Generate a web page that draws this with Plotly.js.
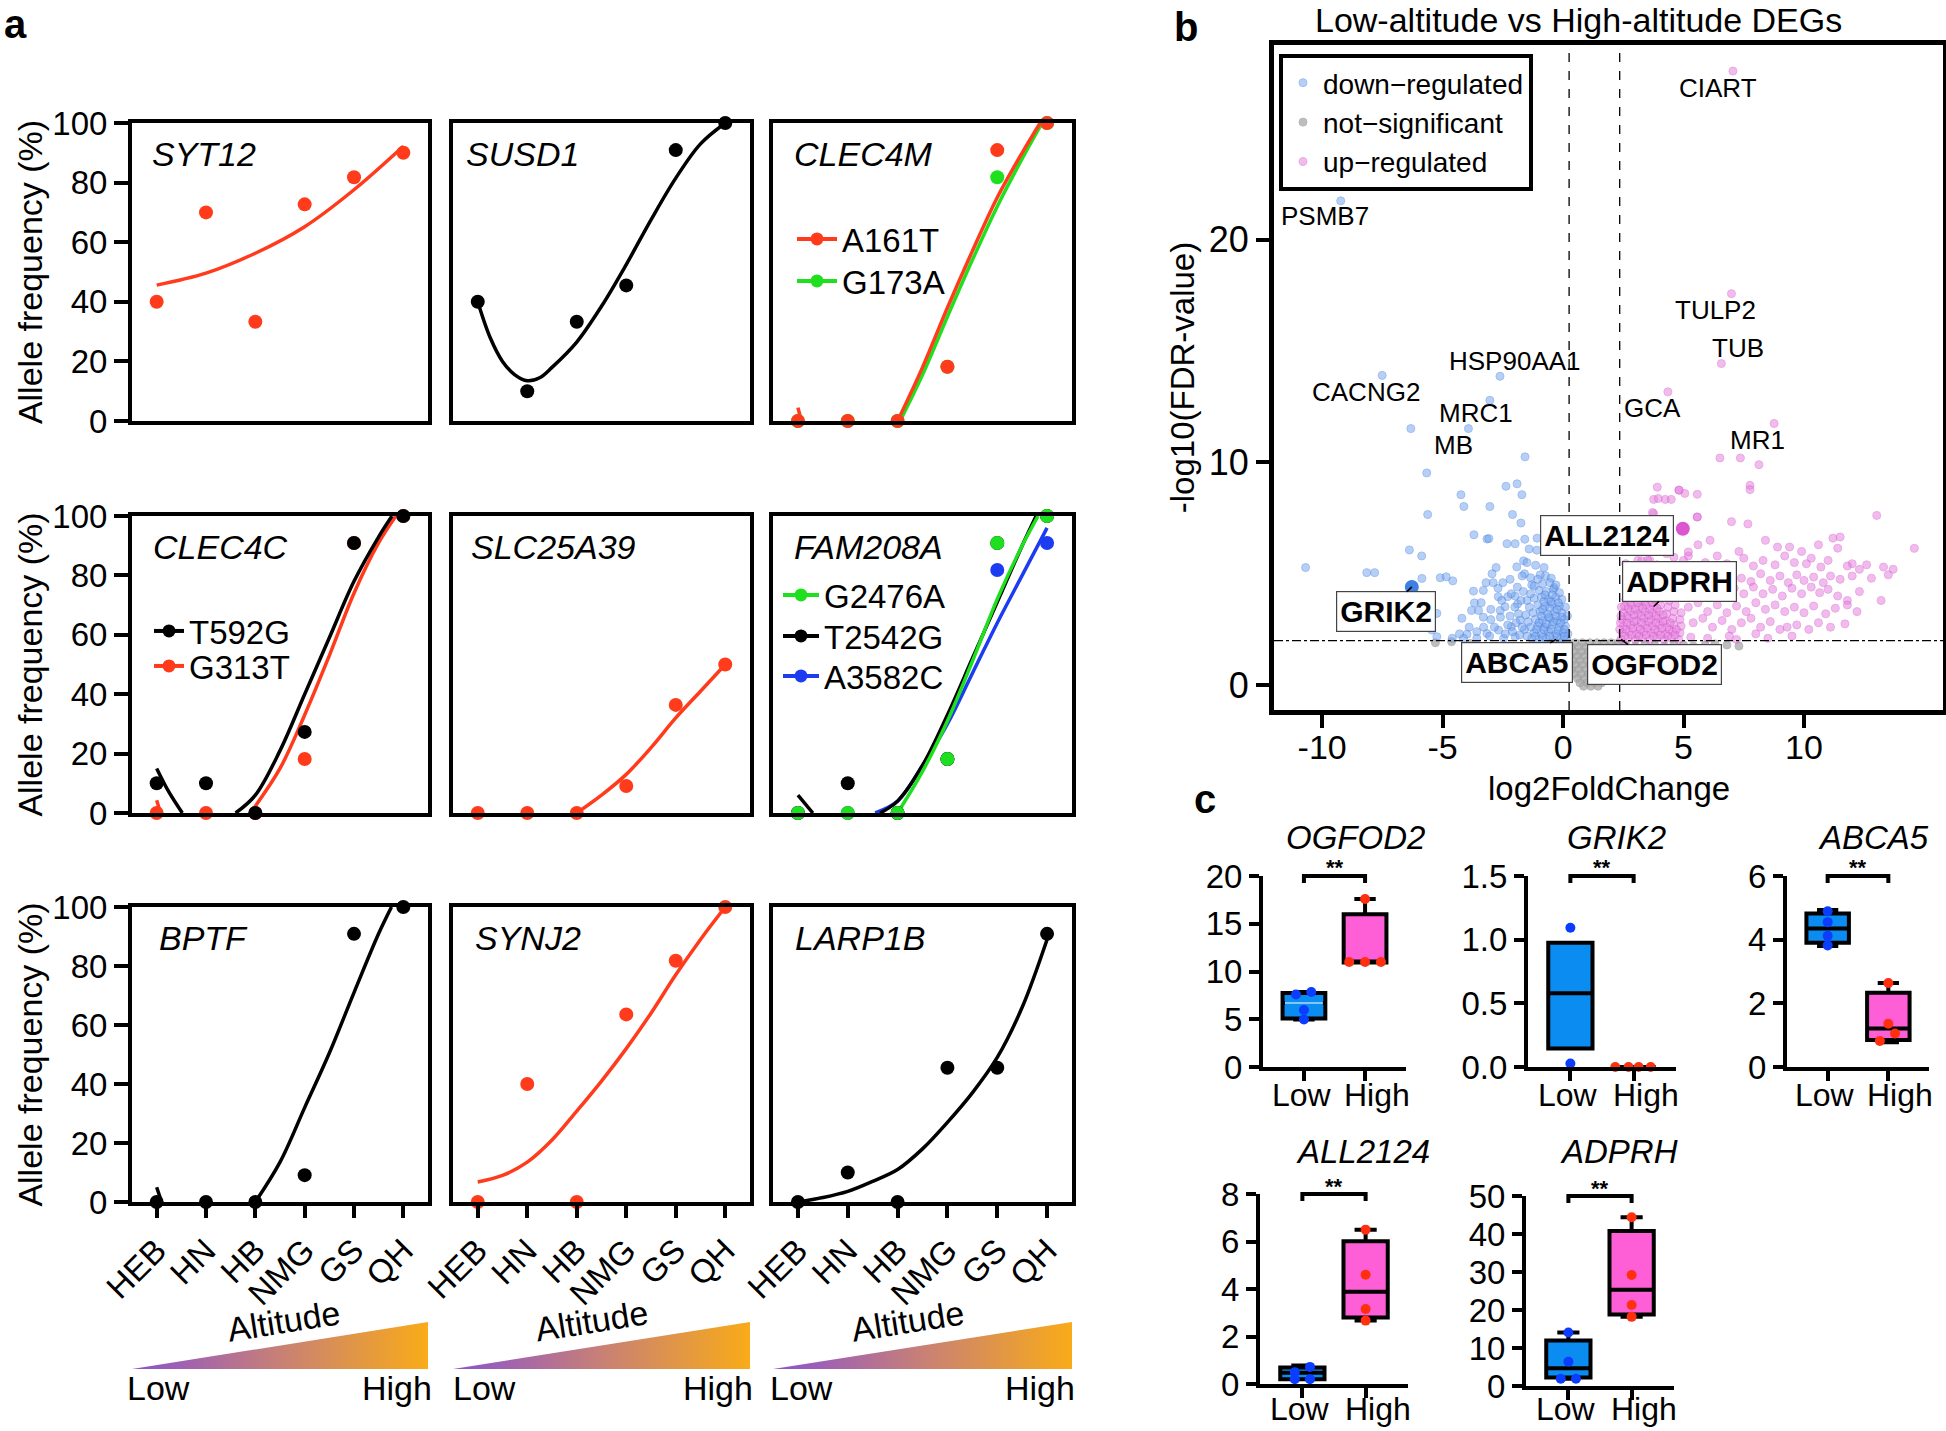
<!DOCTYPE html>
<html><head><meta charset="utf-8">
<script src="https://cdn.plot.ly/plotly-3.0.1.min.js"></script>
<style>html,body{margin:0;padding:0;background:#fff}#chart{width:1946px;height:1431px}</style>
</head><body><div id="chart"></div>
<script>
// ================= DATA =================
// Panel a: allele frequency (%) per population, ordered by altitude
const pops = ['HEB','HN','HB','NMG','GS','QH'];
const popIdx = [0,1,2,3,4,5];

const syt12 = [40, 70, 33.3, 72.7, 81.8, 90];
const syt12FitX = [0, 1, 2, 3, 4, 5];
const syt12FitY = [45.6, 49.6, 56.3, 65.2, 77.6, 92.2];

const susd1 = [40, 10, 33.3, 45.5, 90.9, 100];
const susd1FitX = [0, 0.25, 0.5, 0.75, 1, 1.25, 1.5, 2, 2.5, 3, 3.5, 4, 4.5, 5];
const susd1FitY = [40, 28, 20, 15.5, 13.5, 14.5, 18, 26.5, 38.5, 52.5, 67.5, 81.5, 93, 100];

const clec4mA161T = [0, 0, 0, 18.2, 90.9, 100];
const clec4mA161TFitX = [0, 0.07, null, 2, 2.5, 3, 3.5, 4, 4.5, 4.86];
const clec4mA161TFitY = [4.5, 0, null, 0, 18, 38, 57, 75, 90, 100];
const clec4mG173A = [0, 0, 0, 18.2, 81.8, 100];
const clec4mG173AFitX = [2.05, 2.5, 3, 3.5, 4, 4.5, 4.9];
const clec4mG173AFitY = [0, 15.5, 35, 54, 72, 88, 100];

const clec4cT592G = [10, 10, 0, 27.3, 90.9, 100];
const clec4cT592GFitX = [0, 0.25, 0.52, null, 1.6, 2, 2.5, 3, 3.5, 4, 4.5, 4.77];
const clec4cT592GFitY = [15, 7, 0, null, 0, 6, 21, 40, 59, 78, 93, 100];
const clec4cG313T = [0, 0, 0, 18.2, 90.9, 100];
const clec4cG313TFitX = [0, 0.08, null, 1.9, 2.5, 3, 3.5, 4, 4.5, 4.85];
const clec4cG313TFitY = [4.3, 0, null, 0, 15, 33, 53, 74, 91, 100];

const slc25a39 = [0, 0, 0, 9.1, 36.4, 50];
const slc25a39FitX = [2, 2.5, 3, 3.5, 4, 4.5, 5];
const slc25a39FitY = [0, 6, 13, 22, 32, 41, 50];

const fam208aG2476A = [0, 0, 0, 18.2, 90.9, 100];
const fam208aG2476AFitX = [2, 2.5, 3, 3.5, 4, 4.5, 4.82];
const fam208aG2476AFitY = [0, 14, 31, 51, 72, 90, 100];
const fam208aT2542G = [0, 10, 0, 18.2, 90.9, 100];
const fam208aT2542GFitX = [0, 0.3, null, 1.65, 2, 2.5, 3, 3.5, 4, 4.5, 4.78];
const fam208aT2542GFitY = [6, 0, null, 0, 4, 16, 33, 52, 71, 90, 100];
const fam208aA3582C = [0, 0, 0, 18.2, 81.8, 90.9];
const fam208aA3582CFitX = [1.55, 2, 2.5, 3, 3.5, 4, 4.5, 5];
const fam208aA3582CFitY = [0, 4, 16, 30, 47, 64, 80, 96];

const bptf = [0, 0, 0, 9.1, 90.9, 100];
const bptfFitX = [0, 0.1, null, 2, 2.5, 3, 3.5, 4, 4.5, 4.76];
const bptfFitY = [5, 0, null, 0, 13.5, 32, 50.5, 71, 91, 100];

const synj2 = [0, 40, 0, 63.6, 81.8, 100];
const synj2FitX = [0, 0.5, 1, 1.5, 2, 2.5, 3, 3.5, 4, 4.5, 5];
const synj2FitY = [6.8, 9, 13.5, 21, 30.8, 41, 52, 64, 77, 89, 100];

const larp1b = [0, 10, 0, 45.5, 45.5, 90.9];
const larp1bFitX = [0, 0.5, 1, 1.5, 2, 2.5, 3, 3.5, 4, 4.5, 5];
const larp1bFitY = [0, 1.5, 3.6, 7, 11, 18, 27, 37, 49, 66, 89];

// Panel b: volcano points [log2FoldChange, -log10(FDR)]
const downRegulated = [
[-9.23,21.75],[-7.51,13.91],[-6.32,11.52],[-3.93,11.52],[-3.04,12.79],[-2.62,13.87],[-1.58,10.25],
[-5.66,9.53],[-5.62,7.66],[-4.24,8.55],[-4.12,8.02],[-3.04,8.02],[-2.37,8.93],[-1.91,9.04],[-1.71,8.55],[-2.10,7.66],[-1.75,7.28],
[-3.70,6.75],[-3.16,6.56],[-3.08,6.58],[-2.33,6.35],[-1.99,6.35],[-1.59,6.55],[-1.08,6.60],[-1.41,6.11],[-1.09,6.06],
[-10.69,5.28],[-8.15,5.05],[-7.82,5.05],[-6.38,6.07],[-5.87,5.80],[-5.86,4.79],[-5.10,4.82],[-4.85,4.86],[-4.58,4.68],
[-5.24,3.22],[-5.45,2.47],[-5.24,2.17],
[-2.78,5.28],[-1.92,5.31],[-1.64,5.58],[-1.5,5.5],[-1.14,5.38],[-0.79,5.28],[-0.73,4.91],[-0.95,4.95],[-0.49,4.8],[-0.37,4.38],[-1.6,5.0],[-1.35,4.82],[-1.3,4.5],
[-3.72,4.22],[-3.31,4.25],[-3.68,3.69],[-3.8,3.35],[-3.51,3.35],[-3.31,3.05],[-3.0,2.94],[-2.61,3.35],[-2.7,4.35],[-2.69,3.97],[-2.3,3.97],[-2.41,3.52],[-1.99,4.0],[-1.89,3.64],[-1.78,2.92],[-2.15,2.62],[-2.68,2.47],[-3.16,2.32],[-3.58,2.4],[-3.99,2.28],[-4.14,2.1],[-3.58,2.1],[-2.47,2.1],[-1.99,2.17],
[-1.3,2.1],[-1.0,2.05],[-0.7,2.1],[-0.4,2.05],[-0.1,2.1],[0.15,2.05],
[-1.2,2.35],[-0.9,2.3],[-0.6,2.4],[-0.3,2.3],[0.0,2.35],[0.2,2.3],
[-1.35,2.6],[-1.05,2.65],[-0.75,2.6],[-0.45,2.7],[-0.15,2.6],[0.1,2.65],
[-1.15,2.95],[-0.85,2.9],[-0.55,3.0],[-0.25,2.9],[0.05,2.95],
[-1.25,3.25],[-0.95,3.3],[-0.65,3.2],[-0.35,3.3],[-0.05,3.25],[0.18,3.1],
[-1.05,3.6],[-0.75,3.55],[-0.45,3.65],[-0.15,3.55],[0.1,3.5],
[-1.2,3.9],[-0.9,3.95],[-0.6,3.85],[-0.3,3.95],[-0.05,3.85],
[-1.0,4.25],[-0.7,4.2],[-0.4,4.3],[-0.15,4.15],
[-0.85,4.55],[-0.55,4.6],[-0.3,4.5],
[-1.5,2.2],[-1.6,2.5],[-1.45,2.85],[-1.55,3.15],[-1.4,3.5],[-1.5,3.8],[-1.35,4.1],[-1.2,4.45],[-1.05,4.75],
[-1.15,2.2],[-0.85,2.15],[-0.55,2.2],[-0.25,2.2],[0.05,2.2],
[-1.1,2.5],[-0.8,2.5],[-0.5,2.5],[-0.2,2.45],[0.05,2.5],
[-1.0,2.8],[-0.7,2.75],[-0.4,2.85],[-0.1,2.8],
[-0.9,3.1],[-0.6,3.05],[-0.3,3.1],[-0.05,3.05],
[-0.85,3.4],[-0.55,3.45],[-0.25,3.4],
[-0.8,3.75],[-0.5,3.75],[-0.2,3.7],
[-0.75,4.05],[-0.45,4.05],
[-2.4,2.3],[-2.1,2.4],[-1.8,2.25],[-2.3,2.7],[-1.95,2.8],[-1.7,2.6],[-2.2,3.1],[-1.85,3.2],[-2.0,3.5],[-1.75,3.8],[-2.15,4.1],[-1.9,4.4],[-1.65,4.2],[-2.5,4.6],[-1.7,4.9],[-2.2,4.75],[-2.55,3.8],[-2.6,3.05],[-2.85,2.6],[-3.05,2.2],[-3.3,2.6],[-3.4,3.7],[-3.0,3.4],[-2.9,4.6],[-3.9,2.6],[-4.3,2.3],[-4.6,2.1],[-4.2,3.0],[-3.2,4.6],[-2.95,5.0]
];
const notSignificant = [
[-0.4,1.9],[-0.1,1.9],[0.2,1.9],[0.5,1.9],[0.8,1.9],[1.1,1.9],[1.4,1.9],[1.7,1.9],[2.0,1.9],[2.3,1.9],
[-0.25,1.7],[0.05,1.7],[0.35,1.7],[0.65,1.7],[0.95,1.7],[1.25,1.7],[1.55,1.7],[1.85,1.7],[2.15,1.7],
[-0.15,1.5],[0.15,1.5],[0.45,1.5],[0.75,1.5],[1.05,1.5],[1.35,1.5],[1.65,1.5],[1.95,1.5],[2.2,1.5],
[0.0,1.3],[0.3,1.3],[0.6,1.3],[0.9,1.3],[1.2,1.3],[1.5,1.3],[1.8,1.3],[2.1,1.3],
[0.1,1.1],[0.4,1.1],[0.7,1.1],[1.0,1.1],[1.3,1.1],[1.6,1.1],[1.9,1.1],
[0.2,0.9],[0.5,0.9],[0.8,0.9],[1.1,0.9],[1.4,0.9],[1.7,0.9],[1.95,0.9],
[0.35,0.7],[0.65,0.7],[0.95,0.7],[1.25,0.7],[1.55,0.7],[1.85,0.7],
[0.45,0.5],[0.75,0.5],[1.05,0.5],[1.35,0.5],[1.65,0.5],
[0.6,0.3],[0.9,0.3],[1.2,0.3],[1.5,0.3],[1.75,0.3],
[0.7,0.1],[1.0,0.1],[1.3,0.1],[1.6,0.1],
[0.85,-0.05],[1.15,-0.05],[1.45,-0.05],
[-5.3,1.9],[-4.63,1.95],[-3.87,1.87],[-3.2,1.75],[-2.8,1.7],[-2.4,1.75],[-2.1,1.65],[-1.8,1.7],[-1.5,1.65],[-1.2,1.75],[-0.9,1.7],[-0.6,1.8],[-1.0,1.5],[-0.5,1.55],
[2.6,1.8],[3.0,1.75],[3.4,1.85],[3.8,1.8],[4.2,1.75],[4.6,1.85],[5.0,1.8],[5.4,1.75],[5.9,1.8],[6.3,1.85],[6.8,1.8],[7.3,1.75],[2.8,1.6],[3.5,1.65],[4.4,1.6]
];
const upRegulated = [
[7.05,27.58],[6.99,17.58],[6.57,14.44],[4.35,13.17],[8.76,11.75],[6.51,10.2],[7.36,10.2],[8.13,9.9],[7.76,8.97],[7.76,8.78],
[3.91,8.89],[4.8,8.76],[5.05,8.61],[5.57,8.57],[4.24,8.34],[3.76,8.34],[4.49,8.34],[3.76,7.7],[5.57,7.55],[6.99,7.34],[7.67,7.24],[13.02,7.62],[14.58,6.14],[3.71,7.75],[3.95,8.38],[4.82,8.75],
[5.6,6.3],[6.1,6.5],[7.3,6.0],[8.4,6.5],[8.9,6.2],[9.4,6.2],[9.9,6.0],[10.6,6.3],[11.2,6.6],[11.5,6.65],[11.4,6.15],[12.0,5.45],
[5.0,5.6],[5.9,5.5],[6.4,5.8],[6.8,5.45],[7.5,5.7],[7.9,5.35],[8.3,5.6],[8.8,5.4],[9.2,5.8],[9.6,5.5],[10.1,5.45],[10.3,5.7],[10.7,5.3],[11.0,5.6],[11.8,5.35],[12.3,5.2],[12.6,5.4],[13.3,5.3],[13.7,5.2],
[5.3,4.9],[5.7,4.7],[6.2,5.0],[6.6,4.75],[7.0,5.1],[7.4,4.8],[7.8,4.65],[8.2,5.0],[8.6,4.7],[9.0,4.9],[9.35,4.6],[9.7,4.95],[10.0,4.7],[10.4,4.85],[10.8,4.6],[11.1,4.9],[11.5,4.75],[12.0,4.9],[12.8,4.8],[13.5,4.95],
[5.1,4.2],[5.5,4.4],[5.9,4.05],[6.3,4.3],[6.7,4.0],[7.1,4.35],[7.5,4.1],[7.9,4.4],[8.3,4.1],[8.7,4.3],[9.1,4.0],[9.5,4.35],[9.9,4.1],[10.3,4.4],[10.65,4.15],[11.0,4.3],[11.4,4.0],[11.8,3.8],[12.3,4.2],[13.2,3.8],
[5.2,3.5],[5.6,3.7],[6.0,3.3],[6.4,3.6],[6.8,3.25],[7.2,3.55],[7.6,3.3],[8.0,3.7],[8.4,3.4],[8.8,3.6],[9.2,3.3],[9.6,3.5],[10.0,3.25],[10.4,3.55],[10.9,3.2],[11.3,3.45],[11.8,3.6],[12.2,3.3],
[5.4,2.8],[5.8,3.0],[6.2,2.6],[6.6,2.9],[7.0,2.5],[7.4,2.8],[7.8,3.0],[8.2,2.6],[8.6,2.85],[9.0,2.5],[9.3,2.6],[9.7,2.7],[10.2,2.5],[10.6,2.8],[11.1,2.6],[11.7,2.75],
[5.3,2.15],[6.0,2.1],[6.9,2.2],[7.2,2.05],[8.0,2.3],[8.5,2.1],[9.5,2.2],
[2.4,2.05],[2.7,2.1],[3.0,2.05],[3.3,2.1],[3.6,2.05],[3.9,2.1],[4.2,2.05],[4.5,2.1],[4.8,2.05],
[2.45,2.35],[2.75,2.4],[3.05,2.3],[3.35,2.4],[3.65,2.35],[3.95,2.4],[4.25,2.3],[4.55,2.4],[4.85,2.35],
[2.5,2.65],[2.8,2.7],[3.1,2.6],[3.4,2.7],[3.7,2.65],[4.0,2.7],[4.3,2.6],[4.6,2.7],[4.9,2.65],
[2.45,2.95],[2.75,3.0],[3.05,2.9],[3.35,3.0],[3.65,2.95],[3.95,3.0],[4.25,2.9],[4.55,3.0],[4.85,2.95],
[2.5,3.25],[2.8,3.3],[3.1,3.2],[3.4,3.3],[3.7,3.25],[4.0,3.3],[4.3,3.2],[4.6,3.3],[4.9,3.25],
[2.55,3.55],[2.85,3.6],[3.15,3.5],[3.45,3.6],[3.75,3.55],[4.05,3.6],[4.35,3.5],[4.65,3.6],
[2.6,3.85],[2.9,3.9],[3.2,3.8],[3.5,3.9],[3.8,3.85],[4.1,3.9],[4.4,3.8],[4.7,3.95],
[2.7,4.2],[3.0,4.15],[3.3,4.25],[3.6,4.2],[3.9,4.15],[4.2,4.25],[4.5,4.2],
[2.9,4.5],[3.2,4.55],[3.5,4.5],[3.8,4.6],[4.1,4.5],[4.4,4.55],
[2.55,2.2],[2.85,2.25],[3.15,2.2],[3.45,2.25],[3.75,2.2],[4.05,2.25],[4.35,2.2],[4.65,2.25],
[2.6,2.5],[2.9,2.55],[3.2,2.5],[3.5,2.55],[3.8,2.5],[4.1,2.55],[4.4,2.5],[4.7,2.5],
[2.65,2.8],[2.95,2.85],[3.25,2.8],[3.55,2.85],[3.85,2.8],[4.15,2.85],[4.45,2.8],
[2.65,3.1],[2.95,3.15],[3.25,3.1],[3.55,3.15],[3.85,3.1],[4.15,3.15],
[2.7,3.45],[3.0,3.4],[3.3,3.45],[3.6,3.4],[3.9,3.45],
[2.8,3.7],[3.1,3.7],[3.4,3.75],[3.7,3.7],
[2.35,2.5],[2.38,2.8],[2.4,3.1],[2.42,3.5],
[2.75,5.0],[3.3,5.1],[3.9,5.4],[4.3,5.9],[3.6,5.6],[5.2,5.8],[3.1,5.6],[2.6,5.45],[4.7,5.25],[4.0,4.9],[3.26,5.58],[3.51,5.61],[4.6,5.74],[5.2,5.98],[5.57,7.55]
];
const highlightDown = [[-6.28,4.41]];   // GRIK2
const highlightUp = [[4.97,7.02]];      // ALL2124
const fcThresholds = [0.25, 2.35];
const fdrThreshold = 2;
const volcanoTicks = [-10, -5, 0, 5, 10];
const volcanoTickText = ['-10', '-5', '0', '5', '10'];

const plainLabels = ['CIART','PSMB7','CACNG2','HSP90AA1','MRC1','MB','TULP2','TUB','GCA','MR1'];
const plainLabelX = [6.43, -9.9, -8.19, -2.0, -3.62, -4.55, 6.32, 7.24, 3.70, 8.07];
const plainLabelY = [26.84, 21.05, 13.17, 14.55, 12.22, 10.8, 16.84, 15.14, 12.43, 11.0];

const boxedLabels = ['ALL2124','ADPRH','GRIK2','ABCA5','OGFOD2'];
const boxedPointX = [4.97, 3.76, -6.28, -0.29, 2.41];
const boxedPointY = [7.02, 3.53, 4.41, 2.05, 2.05];
const boxedLabelX = [1.83, 4.85, -7.34, -1.93, 3.79];
const boxedLabelY = [6.71, 4.65, 3.30, 1.0, 0.92];

// Panel c: expression, 4 samples per group; box stats [lowerWhisker, q1, median, q3, upperWhisker]
const groups = ['Low','High'];
const ogfod2Low = [7.6, 7.85, 5.96, 4.98];
const ogfod2High = [17.6, 11.0, 11.0, 11.0];
const ogfod2LowBox = [4.98, 5.07, 6.7, 7.76, 7.85];
const ogfod2HighBox = [10.95, 10.95, 11.0, 16.0, 17.6];
const grik2Low = [1.094, 0.027];
const grik2High = [0, 0, 0, 0];
const grik2LowBox = [0.145, 0.145, 0.58, 0.976, 0.976];
const grik2HighBox = [0, 0, 0, 0, 0];
const abca5Low = [4.89, 4.55, 4.12, 3.82];
const abca5High = [2.64, 1.36, 1.05, 0.82];
const abca5LowBox = [3.8, 3.9, 4.35, 4.82, 4.93];
const abca5HighBox = [0.78, 0.85, 1.21, 2.33, 2.64];
const all2124Low = [0.5, 0.72, 0.2, 0.2];
const all2124High = [6.5, 4.6, 3.16, 2.67];
const all2124LowBox = [0.2, 0.2, 0.47, 0.69, 0.78];
const all2124HighBox = [2.67, 2.8, 3.88, 6.01, 6.5];
const adprhLow = [14.1, 6.4, 1.9, 1.9];
const adprhHigh = [44.4, 29.2, 21.3, 18.2];
const adprhLowBox = [1.9, 2.25, 4.7, 12.0, 14.1];
const adprhHighBox = [18.2, 18.8, 25.3, 40.8, 44.4];

// ================= STYLE / LAYOUT =================
const W = 1946, H = 1431;
const FONT = 'Liberation Sans, Arial, Helvetica, sans-serif';
const px = v => v / W;
const py = v => 1 - v / H;
const domX = (a, b) => [a / W, b / W];
const domY = (t, b) => [1 - b / H, 1 - t / H];
const RED = '#ff3b1c', GREEN = '#1fe01f', BLUE = '#1d3cf2', BLACK = '#000000';

const traces = [];
const annotations = [];
const shapes = [];
const layout = {
  width: W, height: H, margin: {l:0, r:0, t:0, b:0},
  paper_bgcolor: '#fff', plot_bgcolor: 'rgba(0,0,0,0)',
  font: {family: FONT, color: '#000', size: 30},
  showlegend: true, hovermode: false
};

// ---------- Panel a ----------
const aCols = [[132,428],[453,750],[773,1072]];
const aRows = [[123,421],[516,813],[907,1202]];
// legend entries: [name, colour, line-start x px, centre y px, symbol width]
const aPanels = [
  {gene:'SYT12', dx:18, series:[{v:syt12, fx:syt12FitX, fy:syt12FitY, c:RED}]},
  {gene:'SUSD1', dx:11, series:[{v:susd1, fx:susd1FitX, fy:susd1FitY, c:BLACK}]},
  {gene:'CLEC4M', dx:19, series:[
      {v:clec4mG173A, fx:clec4mG173AFitX, fy:clec4mG173AFitY, c:GREEN},
      {v:clec4mA161T, fx:clec4mA161TFitX, fy:clec4mA161TFitY, c:RED}],
    legend:[['A161T',RED,797,240,40],['G173A',GREEN,797,282,40]]},
  {gene:'CLEC4C', dx:19, series:[
      {v:clec4cG313T, fx:clec4cG313TFitX, fy:clec4cG313TFitY, c:RED},
      {v:clec4cT592G, fx:clec4cT592GFitX, fy:clec4cT592GFitY, c:BLACK}],
    legend:[['T592G',BLACK,154,632,30],['G313T',RED,154,667,30]]},
  {gene:'SLC25A39', dx:16, series:[{v:slc25a39, fx:slc25a39FitX, fy:slc25a39FitY, c:RED}]},
  {gene:'FAM208A', dx:19, series:[
      {v:fam208aA3582C, fx:fam208aA3582CFitX, fy:fam208aA3582CFitY, c:BLUE},
      {v:fam208aT2542G, fx:fam208aT2542GFitX, fy:fam208aT2542GFitY, c:BLACK},
      {v:fam208aG2476A, fx:fam208aG2476AFitX, fy:fam208aG2476AFitY, c:GREEN}],
    legend:[['G2476A',GREEN,783,596,36],['T2542G',BLACK,783,637,36],['A3582C',BLUE,783,677,36]]},
  {gene:'BPTF', dx:25, series:[{v:bptf, fx:bptfFitX, fy:bptfFitY, c:BLACK}]},
  {gene:'SYNJ2', dx:20, series:[{v:synj2, fx:synj2FitX, fy:synj2FitY, c:RED}]},
  {gene:'LARP1B', dx:20, series:[{v:larp1b, fx:larp1bFitX, fy:larp1bFitY, c:BLACK}]}
];

let legendCount = 1;
aPanels.forEach((p, i) => {
  const r = Math.floor(i / 3), c = i % 3, n = i + 1;
  const xa = 'x' + n, ya = 'y' + n;
  const [cl, cr] = aCols[c], [rt, rb] = aRows[r];
  layout['xaxis' + n] = {
    domain: domX(cl, cr), anchor: ya, range: [-0.5, 5.5], fixedrange: true,
    showline: true, mirror: true, linewidth: 4, linecolor: '#000',
    showgrid: false, zeroline: false,
    tickvals: popIdx, ticktext: pops,
    ticks: r === 2 ? 'outside' : '', ticklen: 12, tickwidth: 4, tickcolor: '#000',
    showticklabels: r === 2, tickangle: -45, tickfont: {size: 33}
  };
  layout['yaxis' + n] = {
    domain: domY(rt, rb), anchor: xa, range: [0, 100], fixedrange: true,
    showline: true, mirror: true, linewidth: 4, linecolor: '#000',
    showgrid: false, zeroline: false,
    tickvals: [0,20,40,60,80,100],
    ticks: c === 0 ? 'outside' : '', ticklen: 14, tickwidth: 4, tickcolor: '#000',
    showticklabels: c === 0, tickfont: {size: 33},
    title: c === 0 ? {text: 'Allele frequency (%)', font: {size: 34}, standoff: 0} : {text: ''}
  };
  p.series.forEach(s => traces.push({
    type: 'scatter', mode: 'lines', xaxis: xa, yaxis: ya, x: s.fx, y: s.fy,
    line: {color: s.c, width: 3.5, shape: 'spline', smoothing: 1}, connectgaps: false,
    showlegend: false, hoverinfo: 'skip'
  }));
  p.series.forEach(s => traces.push({
    type: 'scatter', mode: 'markers', xaxis: xa, yaxis: ya, x: popIdx, y: s.v,
    marker: {color: s.c, size: 14}, cliponaxis: false, showlegend: false, hoverinfo: 'skip'
  }));
  if (p.legend) {
    p.legend.forEach(([name, col, lx, cy, iw]) => {
      legendCount += 1;
      const id = 'legend' + legendCount;
      traces.push({
        type: 'scatter', mode: 'lines+markers', xaxis: xa, yaxis: ya, x: [null], y: [null],
        name: name, legend: id, line: {color: col, width: 4}, marker: {color: col, size: 13},
        showlegend: true, hoverinfo: 'skip'
      });
      layout[id] = {
        x: px(lx - 5), y: py(cy - 29), xanchor: 'left', yanchor: 'top', itemwidth: iw,
        bgcolor: 'rgba(0,0,0,0)', borderwidth: 0, font: {size: 33, family: FONT},
        itemclick: false, itemdoubleclick: false
      };
    });
  }
  annotations.push({
    xref: xa + ' domain', yref: ya + ' domain', x: p.dx / (cr - cl), y: 1 - 31 / (rb - rt),
    xanchor: 'left', yanchor: 'middle', showarrow: false,
    text: '<i>' + p.gene + '</i>', font: {size: 34}
  });
});

// altitude gradient triangles
layout.yaxis10 = {domain: domY(1322, 1369), range: [0, 1], visible: false, anchor: 'x7', fixedrange: true};
const altCenters = [283.5, 591, 907.7];
const lowLeft = [125, 451, 768];
const highRight = [434, 755, 1077];
[7, 8, 9].forEach((n, k) => {
  traces.push({
    type: 'scatter', mode: 'lines', xaxis: 'x' + n, yaxis: 'y10',
    x: [-0.5, 5.5, 5.5, -0.5], y: [0, 0, 1, 0], fill: 'toself',
    fillgradient: {type: 'horizontal', colorscale: [[0, '#8a52d0'], [0.5, '#c88076'], [1, '#f9ab18']]},
    line: {width: 0, color: 'rgba(0,0,0,0)'}, showlegend: false, hoverinfo: 'skip'
  });
  annotations.push({xref: 'paper', yref: 'paper', x: px(altCenters[k]), y: py(1321), text: 'Altitude',
    textangle: -9, showarrow: false, font: {size: 34}, xanchor: 'center', yanchor: 'middle'});
  annotations.push({xref: 'paper', yref: 'paper', x: px(lowLeft[k]), y: py(1388), text: 'Low',
    showarrow: false, font: {size: 34}, xanchor: 'left', yanchor: 'middle'});
  annotations.push({xref: 'paper', yref: 'paper', x: px(highRight[k]), y: py(1388), text: 'High',
    showarrow: false, font: {size: 34}, xanchor: 'right', yanchor: 'middle'});
});

// ---------- Panel b (volcano) ----------
const VX = 'x11', VY = 'y11';
layout.xaxis11 = {
  domain: domX(1274, 1943), anchor: VY, range: [-12, 15.77], fixedrange: true,
  showline: true, mirror: true, linewidth: 5, linecolor: '#000', showgrid: false, zeroline: false,
  ticks: 'outside', ticklen: 13, tickwidth: 4, tickcolor: '#000', tickvals: volcanoTicks, ticktext: volcanoTickText,
  ticklabelstandoff: -10, tickfont: {size: 34}
};
layout.yaxis11 = {
  domain: domY(45, 710), anchor: VX, range: [-1.12, 28.75], fixedrange: true,
  showline: true, mirror: true, linewidth: 5, linecolor: '#000', showgrid: false, zeroline: false,
  ticks: 'outside', ticklen: 13, tickwidth: 4, tickcolor: '#000', tickvals: [0, 10, 20],
  tickfont: {size: 36}, title: {text: '-log10(FDR-value)', font: {size: 33}, standoff: 6}
};
// x-axis title placed just under the tick labels, as in the figure
annotations.push({xref: VX + ' domain', yref: 'paper', x: 0.5, y: py(789), text: 'log2FoldChange',
  showarrow: false, font: {size: 33}, xanchor: 'center', yanchor: 'middle'});
const volc = (pts, name, col, line, rank, op) => ({
  type: 'scatter', mode: 'markers', xaxis: VX, yaxis: VY, name: name, legendrank: rank,
  x: pts.map(p => p[0]), y: pts.map(p => p[1]),
  marker: {size: 8, color: col, opacity: op, line: {width: 1, color: line}},
  hoverinfo: 'skip', showlegend: true
});
traces.push(volc(notSignificant, 'not−significant', '#a8a8a8', '#a0a0a0', 2, 0.75));
traces.push(volc(downRegulated, 'down−regulated', '#74a4ef', '#4a82e0', 1, 0.52));
traces.push(volc(upRegulated, 'up−regulated', '#e67ede', '#d65ccd', 3, 0.52));
traces.push({type: 'scatter', mode: 'markers', xaxis: VX, yaxis: VY, x: highlightDown.map(p => p[0]), y: highlightDown.map(p => p[1]),
  marker: {size: 14, color: '#3d7fe3'}, showlegend: false, hoverinfo: 'skip'});
traces.push({type: 'scatter', mode: 'markers', xaxis: VX, yaxis: VY, x: highlightUp.map(p => p[0]), y: highlightUp.map(p => p[1]),
  marker: {size: 14, color: '#dc56d0'}, showlegend: false, hoverinfo: 'skip'});
layout.legend = {
  x: px(1279), y: py(54), xanchor: 'left', yanchor: 'top', bgcolor: '#fff',
  bordercolor: '#000', borderwidth: 4, font: {size: 28, family: FONT}, tracegroupgap: 0,
  itemclick: false, itemdoubleclick: false
};
fcThresholds.forEach(v => shapes.push({type: 'line', xref: VX, yref: VY + ' domain', x0: v, x1: v, y0: 0, y1: 1,
  line: {color: '#000', width: 1.3, dash: 'dash'}}));
shapes.push({type: 'line', xref: VX + ' domain', yref: VY, x0: 0, x1: 1, y0: fdrThreshold, y1: fdrThreshold,
  line: {color: '#000', width: 1.3, dash: 'dashdot'}});
plainLabels.forEach((t, k) => annotations.push({xref: VX, yref: VY, x: plainLabelX[k], y: plainLabelY[k],
  text: t, showarrow: false, font: {size: 26}}));
boxedLabels.forEach((t, k) => {
  const connector = k !== 0;  // ALL2124 label sits next to its point without a segment
  annotations.push({
    xref: VX, yref: VY, x: connector ? boxedPointX[k] : boxedLabelX[k], y: connector ? boxedPointY[k] : boxedLabelY[k],
    axref: VX, ayref: VY, ax: boxedLabelX[k], ay: boxedLabelY[k],
    showarrow: connector, arrowhead: 0, arrowwidth: 1.6, arrowcolor: '#000', standoff: 0,
    text: '<b>' + t + '</b>', font: {size: 30}, bgcolor: '#fff', bordercolor: '#444', borderwidth: 1.2, borderpad: 3
  });
});
annotations.push({xref: 'paper', yref: 'paper', x: px(1578), y: py(20), text: 'Low-altitude vs High-altitude DEGs',
  showarrow: false, font: {size: 34}, xanchor: 'center', yanchor: 'middle'});

// ---------- Panel c (boxplots) ----------
const LOWFILL = '#0a8cf0', HIGHFILL = '#ff5fd6', LOWPT = '#0b3dff', HIGHPT = '#ff3010';
const cPanels = [
  {gene:'OGFOD2', low:ogfod2Low, high:ogfod2High, lb:ogfod2LowBox, hb:ogfod2HighBox, xPx:[1263,1406], yPx:[876,1067],
    yMax:20, tv:[0,5,10,15,20], tt:null, tx:1355.5, ty:837, jL:[-0.13,0.12,0,0], jH:[0,-0.26,0,0.26], ly:1095, whiteMedian:true},
  {gene:'GRIK2', low:grik2Low, high:grik2High, lb:grik2LowBox, hb:grik2HighBox, xPx:[1528,1676], yPx:[876,1067],
    yMax:1.5, tv:[0,0.5,1,1.5], tt:['0.0','0.5','1.0','1.5'], tx:1616, ty:837, jL:[0,0], jH:[-0.29,-0.08,0.08,0.27], ly:1095},
  {gene:'ABCA5', low:abca5Low, high:abca5High, lb:abca5LowBox, hb:abca5HighBox, xPx:[1787,1929], yPx:[876,1067],
    yMax:6, tv:[0,2,4,6], tt:null, tx:1873, ty:837, jL:[0,0,0,0], jH:[0,0,0.11,-0.14], ly:1095},
  {gene:'ALL2124', low:all2124Low, high:all2124High, lb:all2124LowBox, hb:all2124HighBox, xPx:[1260,1408], yPx:[1194,1384],
    yMax:8, tv:[0,2,4,6,8], tt:null, tx:1363, ty:1151, jL:[-0.12,0.12,-0.12,0.12], jH:[0,0,0,0], ly:1409},
  {gene:'ADPRH', low:adprhLow, high:adprhHigh, lb:adprhLowBox, hb:adprhHighBox, xPx:[1526,1674], yPx:[1196,1386],
    yMax:50, tv:[0,10,20,30,40,50], tt:null, tx:1619, ty:1151, jL:[0,0,-0.12,0.12], jH:[0,0,0,0], ly:1409}
];
const groupLabelShift = [-0.04, 0.2];
const BOXW = 0.7;
cPanels.forEach((p, k) => {
  const n = 12 + k, xa = 'x' + n, ya = 'y' + n;
  layout['xaxis' + n] = {
    domain: domX(p.xPx[0], p.xPx[1]), anchor: ya, range: [-0.67, 1.67], fixedrange: true,
    showline: true, linewidth: 4, linecolor: '#000', showgrid: false, zeroline: false,
    ticks: 'outside', ticklen: 10, tickwidth: 4, tickcolor: '#000',
    tickvals: [0, 1], showticklabels: false
  };
  layout['yaxis' + n] = {
    domain: domY(p.yPx[0], p.yPx[1]), anchor: xa, range: [0, p.yMax], fixedrange: true,
    showline: true, linewidth: 4, linecolor: '#000', showgrid: false, zeroline: false,
    ticks: 'outside', ticklen: 10, tickwidth: 4, tickcolor: '#000',
    tickvals: p.tv, ticktext: p.tt || p.tv.map(String), tickfont: {size: 33}
  };
  [[p.lb, 0, LOWFILL], [p.hb, 1, HIGHFILL]].forEach(([b, pos, fill]) => traces.push({
    type: 'box', xaxis: xa, yaxis: ya, x: [pos],
    lowerfence: [b[0]], q1: [b[1]], median: [b[2]], q3: [b[3]], upperfence: [b[4]],
    width: BOXW, whiskerwidth: 0.5, fillcolor: fill, line: {color: '#000', width: 4},
    boxpoints: false, showlegend: false, hoverinfo: 'skip'
  }));
  if (p.whiteMedian) {
    // the Low box of OGFOD2 shows its median as a thin white line
    const m = p.lb[2], hw = BOXW / 2 - 0.04;
    traces.push({type: 'scatter', mode: 'lines', xaxis: xa, yaxis: ya, x: [-hw, hw], y: [m, m],
      line: {color: LOWFILL, width: 5}, showlegend: false, hoverinfo: 'skip'});
    traces.push({type: 'scatter', mode: 'lines', xaxis: xa, yaxis: ya, x: [-hw, hw], y: [m, m],
      line: {color: '#ffffff', width: 1.2}, showlegend: false, hoverinfo: 'skip'});
  }
  [[p.low, 0, p.jL, LOWPT], [p.high, 1, p.jH, HIGHPT]].forEach(([vals, pos, jit, col]) => traces.push({
    type: 'scatter', mode: 'markers', xaxis: xa, yaxis: ya,
    x: vals.map((v, j) => pos + jit[j]), y: vals,
    marker: {size: 10, color: col}, cliponaxis: false, showlegend: false, hoverinfo: 'skip'
  }));
  groups.forEach((g, j) => annotations.push({
    xref: xa, yref: 'paper', x: j + groupLabelShift[j], y: py(p.ly), text: g,
    showarrow: false, font: {size: 32}, xanchor: 'center', yanchor: 'middle'
  }));
  const top = p.yPx[0];
  shapes.push({type: 'path', xref: xa, yref: 'paper',
    path: `M0,${py(top + 7)} L0,${py(top)} L1,${py(top)} L1,${py(top + 7)}`,
    line: {color: '#000', width: 4}});
  annotations.push({xref: xa, yref: 'paper', x: 0.5, y: py(top - 8), text: '<b>**</b>', showarrow: false,
    font: {size: 22}, xanchor: 'center', yanchor: 'middle'});
  annotations.push({xref: 'paper', yref: 'paper', x: px(p.tx), y: py(p.ty), text: '<i>' + p.gene + '</i>',
    showarrow: false, font: {size: 33}, xanchor: 'center', yanchor: 'middle'});
});

// panel letters
[['a', 2, 0], ['b', 1172, 3], ['c', 1192, 775]].forEach(([t, x, y]) => annotations.push({
  xref: 'paper', yref: 'paper', x: px(x), y: py(y), xanchor: 'left', yanchor: 'top',
  text: '<b>' + t + '</b>', showarrow: false, font: {size: 40}
}));

layout.annotations = annotations;
layout.shapes = shapes;
Plotly.newPlot('chart', traces, layout, {staticPlot: true, displayModeBar: false});
</script>
</body></html>
